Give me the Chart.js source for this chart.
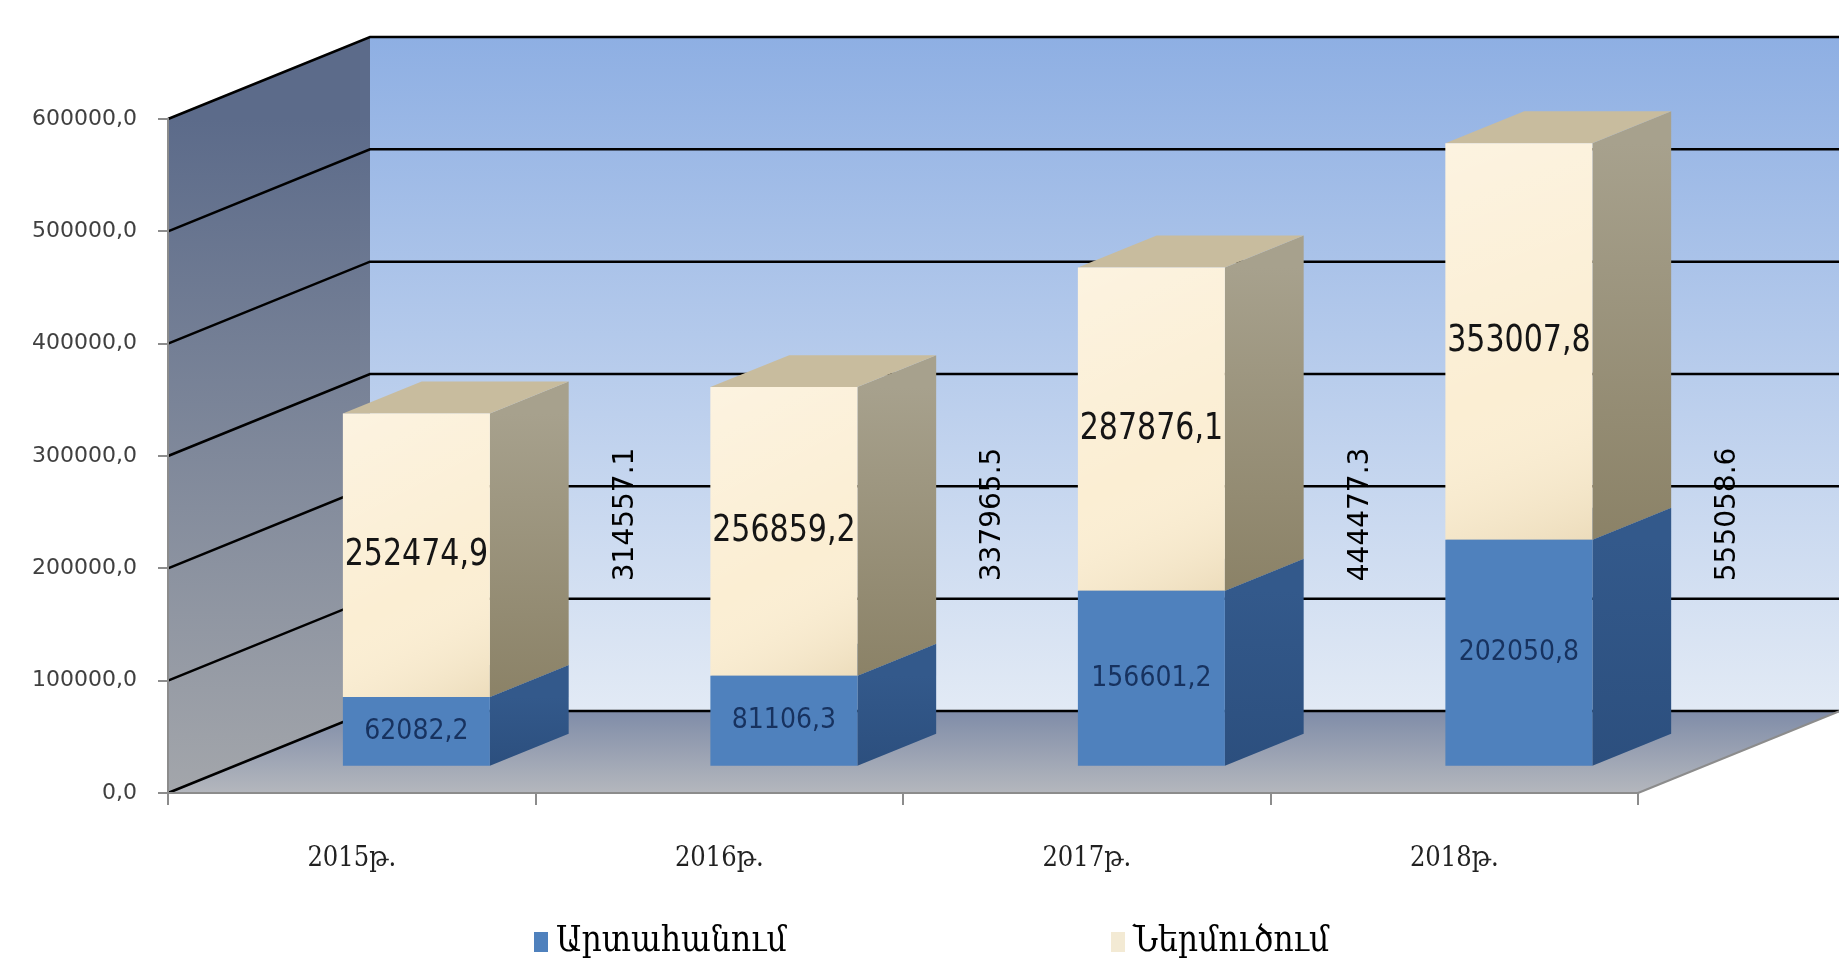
<!DOCTYPE html>
<html>
<head>
<meta charset="utf-8">
<script src="https://cdn.jsdelivr.net/npm/chart.js@4.4.1/dist/chart.umd.min.js"></script>
<style>
    html, body { margin: 0; padding: 0; background: #fff; }
    canvas { display: block; }
</style>
</head>
<body>
<canvas id="tradeChart" width="1839" height="969"></canvas>
<script>
// data
var years = ['2015թ.', '2016թ.', '2017թ.', '2018թ.'];
var seriesNames = ['Արտահանում', 'Ներմուծում'];
var exportValues = [62082.2, 81106.3, 156601.2, 202050.8];
var importValues = [252474.9, 256859.2, 287876.1, 353007.8];
var totalValues = [314557.1, 337965.5, 444477.3, 555058.6];
var yTicks = [0, 100000, 200000, 300000, 400000, 500000, 600000];

// fake 3d: depth of the box and where the bars sit in it
var DX = 202, DY = -82;
var BAR_SHIFT = 0.32;
var BAR_DEPTH = 0.39;

var frontColors = ['#4f81bd', '#fbeed3'];
var sideColors = [['#33598b', '#2c4f7e'], ['#a7a18d', '#8b8267']];
var topColors = ['#3c6aa3', '#c8bc9e'];

function comma(v) {
    return v.toFixed(1).replace('.', ',');
}

function quad(c, pts, fill) {
    c.beginPath();
    c.moveTo(pts[0][0], pts[0][1]);
    for (let i = 1; i < pts.length; i++) c.lineTo(pts[i][0], pts[i][1]);
    c.closePath();
    c.fillStyle = fill;
    c.fill();
}

var box3d = {
    id: 'box3d',
    beforeDraw(chart) {
        const c = chart.ctx, a = chart.chartArea, y = chart.scales.y;
        const L = a.left, R = a.right, T = a.top, B = a.bottom;
        c.save();
        c.fillStyle = '#fff';
        c.fillRect(0, 0, chart.width, chart.height);

        // floor
        let g = c.createLinearGradient(0, B + DY, 0, B);
        g.addColorStop(0, '#7f8ca8');
        g.addColorStop(1, '#b4b7bd');
        quad(c, [[L, B], [R, B], [R + DX, B + DY], [L + DX, B + DY]], g);

        // left wall
        g = c.createLinearGradient(0, T, 0, B);
        g.addColorStop(0, '#5c6b8a');
        g.addColorStop(1, '#a3a6ab');
        quad(c, [[L, B], [L, T], [L + DX, T + DY], [L + DX, B + DY]], g);

        // back wall
        g = c.createLinearGradient(0, T + DY, 0, B + DY);
        g.addColorStop(0, '#8eafe3');
        g.addColorStop(1, '#e2eaf5');
        quad(c, [[L + DX, T + DY], [R + DX, T + DY], [R + DX, B + DY], [L + DX, B + DY]], g);

        // grid lines
        c.strokeStyle = '#000';
        c.lineWidth = 2.5;
        yTicks.forEach(v => {
            const py = y.getPixelForValue(v);
            c.beginPath();
            c.moveTo(L, py);
            c.lineTo(L + DX, py + DY);
            c.lineTo(R + DX, py + DY);
            c.stroke();
        });

        // floor right edge
        c.strokeStyle = '#8c8c8c';
        c.lineWidth = 2;
        c.beginPath();
        c.moveTo(R, B);
        c.lineTo(R + DX, B + DY);
        c.stroke();
        c.restore();
    },
    beforeDatasetsDraw(chart) {
        const c = chart.ctx;
        const sx = DX * BAR_SHIFT, sy = DY * BAR_SHIFT, dx = DX * BAR_DEPTH, dy = DY * BAR_DEPTH;
        chart.data.datasets.forEach((ds, di) => {
            chart.getDatasetMeta(di).data.forEach(bar => {
                const p = bar.getProps(['x', 'y', 'base', 'width'], true);
                const l = p.x - p.width / 2 + sx, r = p.x + p.width / 2 + sx;
                const top = p.y + sy, bot = p.base + sy;
                const g = c.createLinearGradient(0, top, 0, bot);
                g.addColorStop(0, sideColors[di][0]);
                g.addColorStop(1, sideColors[di][1]);
                quad(c, [[r, top], [r, bot], [r + dx, bot + dy], [r + dx, top + dy]], g);
                quad(c, [[l, top], [r, top], [r + dx, top + dy], [l + dx, top + dy]], topColors[di]);
            });
        });
        // the library draws the front faces, pushed back into the box
        c.save();
        c.translate(sx, sy);
    },
    afterDatasetsDraw(chart) {
        const c = chart.ctx, x = chart.scales.x, y = chart.scales.y;
        c.restore();
        const sx = DX * BAR_SHIFT, sy = DY * BAR_SHIFT;
        c.save();

        // a bit of shading on the cream fronts
        chart.getDatasetMeta(1).data.forEach(bar => {
            const p = bar.getProps(['x', 'y', 'base', 'width'], true);
            const l = p.x - p.width / 2 + sx, top = p.y + sy, bot = p.base + sy;
            const g = c.createLinearGradient(l, top, l + p.width, bot);
            g.addColorStop(0, 'rgba(255,255,255,0.3)');
            g.addColorStop(0.6, 'rgba(255,255,255,0)');
            g.addColorStop(1, 'rgba(170,140,80,0.18)');
            c.fillStyle = g;
            c.fillRect(l, top, p.width, bot - top);
        });

        c.textAlign = 'center';
        c.textBaseline = 'middle';

        // segment labels
        const fonts = ['28px "DejaVu Sans Condensed", sans-serif',
                       '38px "DejaVu Sans Condensed", sans-serif'];
        const squeeze = [1, 0.88];
        const colors = ['#17325f', '#151515'];
        chart.data.datasets.forEach((ds, di) => {
            c.font = fonts[di];
            c.fillStyle = colors[di];
            chart.getDatasetMeta(di).data.forEach((bar, i) => {
                const p = bar.getProps(['x', 'y', 'base'], true);
                c.save();
                c.translate(p.x + sx, (p.y + p.base) / 2 + sy);
                c.scale(squeeze[di], 1);
                c.fillText(comma(ds.data[i]), 0, 0);
                c.restore();
            });
        });

        // totals, turned on their side
        const catW = x.width / years.length;
        c.font = '28px "DejaVu Sans", sans-serif';
        c.fillStyle = '#000';
        totalValues.forEach((v, i) => {
            c.save();
            c.translate(x.getPixelForValue(i) + catW * 0.745, y.getPixelForValue(248000));
            c.rotate(-Math.PI / 2);
            c.fillText(v.toFixed(1), 0, 0);
            c.restore();
        });
        c.restore();
    },
    afterDraw(chart) {
        // legend, spread wide like the original
        const c = chart.ctx;
        const legendX = [534, 1111];
        const legendColors = ['#4f81bd', '#f3ead4'];
        c.save();
        c.font = '35px "DejaVu Serif Condensed", "DejaVu Serif", serif';
        c.textBaseline = 'middle';
        c.textAlign = 'left';
        seriesNames.forEach((name, i) => {
            c.fillStyle = legendColors[i];
            c.fillRect(legendX[i], 932, 14, 20);
            c.fillStyle = '#000';
            c.fillText(name, legendX[i] + 22, 942);
        });
        c.restore();
    }
};

var ctx = document.getElementById('tradeChart').getContext('2d');
var tradeChart = new Chart(ctx, {
    type: 'bar',
    data: {
        labels: years,
        datasets: [{
            label: seriesNames[0],
            data: exportValues,
            backgroundColor: frontColors[0],
            borderWidth: 0,
            categoryPercentage: 1,
            barPercentage: 0.4
        }, {
            label: seriesNames[1],
            data: importValues,
            backgroundColor: frontColors[1],
            borderWidth: 0,
            categoryPercentage: 1,
            barPercentage: 0.4
        }]
    },
    options: {
        responsive: false,
        animation: false,
        devicePixelRatio: 1,
        layout: {
            padding: { top: 119, right: 201, left: 0, bottom: 0 }
        },
        plugins: {
            legend: { display: false },
            tooltip: { enabled: false }
        },
        scales: {
            x: {
                stacked: true,
                grid: {
                    offset: true,
                    drawOnChartArea: false,
                    tickLength: 12,
                    color: '#8c8c8c',
                    lineWidth: 2
                },
                border: { color: '#8c8c8c', width: 2 },
                ticks: {
                    color: '#222',
                    padding: 38,
                    font: { family: '"DejaVu Serif Condensed", "DejaVu Serif", serif', size: 27 }
                },
                afterFit: function(s) { s.height = 176; }
            },
            y: {
                stacked: true,
                min: 0,
                max: 600000,
                afterBuildTicks: function(s) { s.ticks = yTicks.map(v => ({ value: v })); },
                grid: {
                    drawOnChartArea: false,
                    tickLength: 10,
                    color: '#8c8c8c',
                    lineWidth: 2
                },
                border: { color: '#8c8c8c', width: 2 },
                ticks: {
                    color: '#404040',
                    padding: 21,
                    font: { family: '"DejaVu Sans", sans-serif', size: 22 },
                    callback: function(v) { return comma(v); }
                },
                afterFit: function(s) { s.width = 168; }
            }
        }
    },
    plugins: [box3d]
});
</script>
</body>
</html>
